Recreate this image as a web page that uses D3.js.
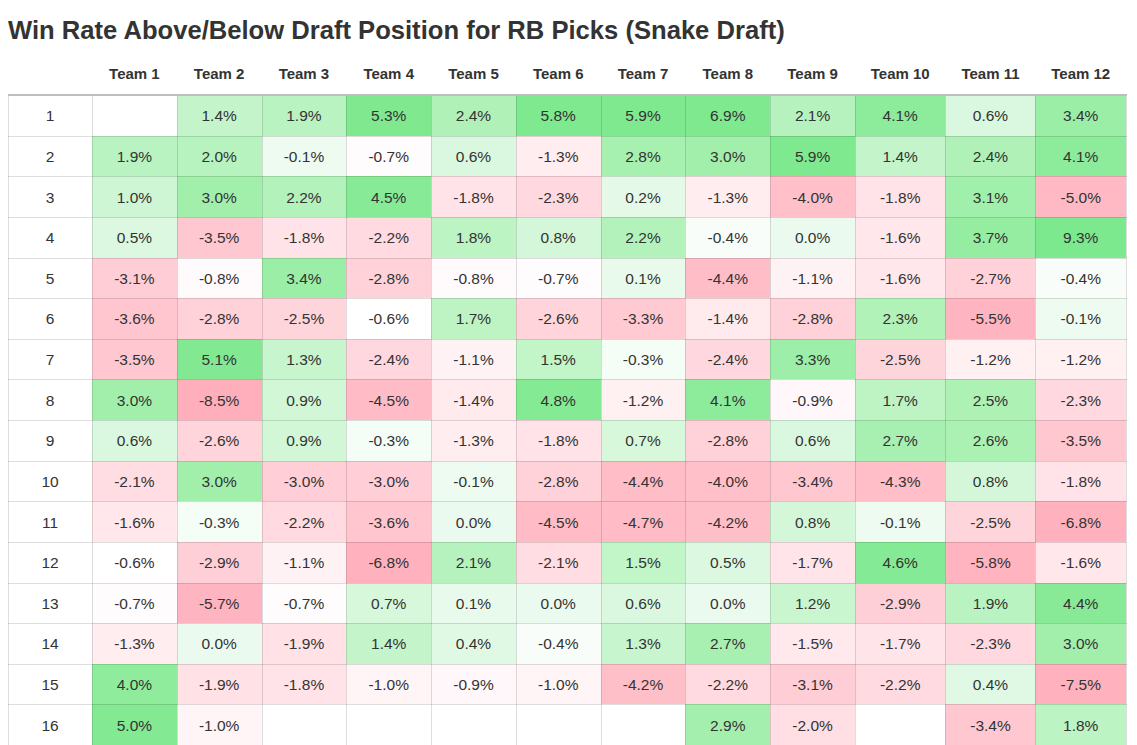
<!DOCTYPE html>
<html>
<head>
<meta charset="utf-8">
<script src="https://cdn.jsdelivr.net/npm/d3@7"></script>
<style>
  body { margin: 0; background: #fff; }
  svg { display: block; }
</style>
</head>
<body>
<div id="chart-area"></div>
<script>
// draft data: rows are RB pick number, columns are team draft slot
var title = "Win Rate Above/Below Draft Position for RB Picks (Snake Draft)";
var teams = ["Team 1", "Team 2", "Team 3", "Team 4", "Team 5", "Team 6",
             "Team 7", "Team 8", "Team 9", "Team 10", "Team 11", "Team 12"];
var picks = ["1", "2", "3", "4", "5", "6", "7", "8", "9", "10", "11", "12", "13", "14", "15", "16"];

// win rate above/below expected, in percent (null = no pick)
var winRates = [
    [null, 1.4, 1.9, 5.3, 2.4, 5.8, 5.9, 6.9, 2.1, 4.1, 0.6, 3.4],
    [1.9, 2.0, -0.1, -0.7, 0.6, -1.3, 2.8, 3.0, 5.9, 1.4, 2.4, 4.1],
    [1.0, 3.0, 2.2, 4.5, -1.8, -2.3, 0.2, -1.3, -4.0, -1.8, 3.1, -5.0],
    [0.5, -3.5, -1.8, -2.2, 1.8, 0.8, 2.2, -0.4, 0.0, -1.6, 3.7, 9.3],
    [-3.1, -0.8, 3.4, -2.8, -0.8, -0.7, 0.1, -4.4, -1.1, -1.6, -2.7, -0.4],
    [-3.6, -2.8, -2.5, -0.6, 1.7, -2.6, -3.3, -1.4, -2.8, 2.3, -5.5, -0.1],
    [-3.5, 5.1, 1.3, -2.4, -1.1, 1.5, -0.3, -2.4, 3.3, -2.5, -1.2, -1.2],
    [3.0, -8.5, 0.9, -4.5, -1.4, 4.8, -1.2, 4.1, -0.9, 1.7, 2.5, -2.3],
    [0.6, -2.6, 0.9, -0.3, -1.3, -1.8, 0.7, -2.8, 0.6, 2.7, 2.6, -3.5],
    [-2.1, 3.0, -3.0, -3.0, -0.1, -2.8, -4.4, -4.0, -3.4, -4.3, 0.8, -1.8],
    [-1.6, -0.3, -2.2, -3.6, 0.0, -4.5, -4.7, -4.2, 0.8, -0.1, -2.5, -6.8],
    [-0.6, -2.9, -1.1, -6.8, 2.1, -2.1, 1.5, 0.5, -1.7, 4.6, -5.8, -1.6],
    [-0.7, -5.7, -0.7, 0.7, 0.1, 0.0, 0.6, 0.0, 1.2, -2.9, 1.9, 4.4],
    [-1.3, 0.0, -1.9, 1.4, 0.4, -0.4, 1.3, 2.7, -1.5, -1.7, -2.3, 3.0],
    [4.0, -1.9, -1.8, -1.0, -0.9, -1.0, -4.2, -2.2, -3.1, -2.2, 0.4, -7.5],
    [5.0, -1.0, null, null, null, null, null, 2.9, -2.0, null, -3.4, 1.8]
];

var width = 1137;
var height = 745;
var table = {left: 8, right: 1126, top: 95, bottom: 745, labelWidth: 84};
var font = "'Liberation Sans', Arial, Helvetica, sans-serif";

var svg = d3.select('#chart-area')
    .append('svg')
        .attr('width', width)
        .attr('height', height)
        .style('font-family', font);

svg.append("text")
    .attr("x", 8)
    .attr("y", 39)
    .attr("font-size", "25.6px")
    .attr("font-weight", "bold")
    .attr("fill", "#333")
    .text(title);

// colour: pink below, white near -0.6, green above (saturates at the ends)
var color = d3.scaleLinear()
    .domain([-8.5, -5.5, -4.0, -2.5, -1.3, -0.6, 0.0, 1.4, 3.0, 4.5, 5.5, 9.3])
    .range(["#ffafbb", "#ffb5c1", "#ffc0ca", "#ffd5dc", "#ffedf0", "#ffffff",
            "#ebfaee", "#c4f5ca", "#a2efac", "#86ea96", "#7fe98f", "#7de98f"])
    .clamp(true);

// header labels first, so column widths can follow their text width (auto table layout)
var headers = svg.append("g")
    .attr("class", "header")
    .selectAll("text")
    .data(teams)
    .enter()
    .append("text")
        .attr("y", 79)
        .attr("font-size", "15px")
        .attr("font-weight", "bold")
        .attr("text-anchor", "middle")
        .attr("fill", "#333")
        .text((d) => d);

var weights = [];
headers.each(function() { weights.push(this.getComputedTextLength() + 72); });
var cum = [0];
weights.forEach((w, i) => { cum.push(cum[i] + w); });

var x = d3.scaleLinear()
    .domain([0, cum[cum.length - 1]])
    .range([table.left + table.labelWidth, table.right]);
var colLeft = (i) => x(cum[i]);
var colMid = (i) => (x(cum[i]) + x(cum[i + 1])) / 2;

var y = d3.scaleBand()
    .domain(picks)
    .range([table.top, table.bottom]);

headers.attr("x", (d, i) => colMid(i));

var cells = [];
winRates.forEach((row, r) => {
    row.forEach((v, c) => {
        cells.push({pick: picks[r], team: c, value: v});
    });
});

var body = svg.append("g").attr("class", "body");

body.selectAll("rect.cell")
    .data(cells)
    .enter()
    .append("rect")
        .attr("class", "cell")
        .attr("x", (d) => Math.round(colLeft(d.team)))
        .attr("y", (d) => Math.round(y(d.pick)))
        .attr("width", (d) => Math.round(colLeft(d.team + 1)) - Math.round(colLeft(d.team)))
        .attr("height", (d) => Math.round(y(d.pick) + y.bandwidth()) - Math.round(y(d.pick)))
        .attr("fill", (d) => d.value === null ? "#fff" : color(d.value));

// grid lines, translucent so they darken whatever fill they sit on
var grid = body.append("g")
    .attr("stroke", "rgba(0,0,0,0.13)")
    .attr("stroke-width", 1);

var xEdges = [table.left].concat(cum.map((c) => x(c)));
grid.selectAll("line.v")
    .data(xEdges)
    .enter()
    .append("line")
        .attr("class", "v")
        .attr("x1", (d) => Math.round(d) + 0.5)
        .attr("x2", (d) => Math.round(d) + 0.5)
        .attr("y1", table.top)
        .attr("y2", table.bottom);

var yEdges = picks.map((p) => y(p)).concat([table.bottom - 0.5]);
grid.selectAll("line.h")
    .data(yEdges.slice(1))
    .enter()
    .append("line")
        .attr("class", "h")
        .attr("x1", table.left)
        .attr("x2", table.right + 1)
        .attr("y1", (d) => Math.round(d) + 0.5)
        .attr("y2", (d) => Math.round(d) + 0.5);

// heavier rule under the header
body.append("line")
    .attr("x1", table.left)
    .attr("x2", table.right + 1)
    .attr("y1", table.top)
    .attr("y2", table.top)
    .attr("stroke", "#bdbdbd")
    .attr("stroke-width", 2);

body.selectAll("text.pick")
    .data(picks)
    .enter()
    .append("text")
        .attr("class", "pick")
        .attr("x", table.left + table.labelWidth / 2)
        .attr("y", (d) => y(d) + y.bandwidth() / 2 + 6)
        .attr("font-size", "15.5px")
        .attr("text-anchor", "middle")
        .attr("fill", "#333")
        .text((d) => d);

body.selectAll("text.value")
    .data(cells.filter((d) => d.value !== null))
    .enter()
    .append("text")
        .attr("class", "value")
        .attr("x", (d) => colMid(d.team))
        .attr("y", (d) => y(d.pick) + y.bandwidth() / 2 + 6)
        .attr("font-size", "15.5px")
        .attr("text-anchor", "middle")
        .attr("fill", "#333")
        .text((d) => d.value.toFixed(1) + "%");
</script>
</body>
</html>
